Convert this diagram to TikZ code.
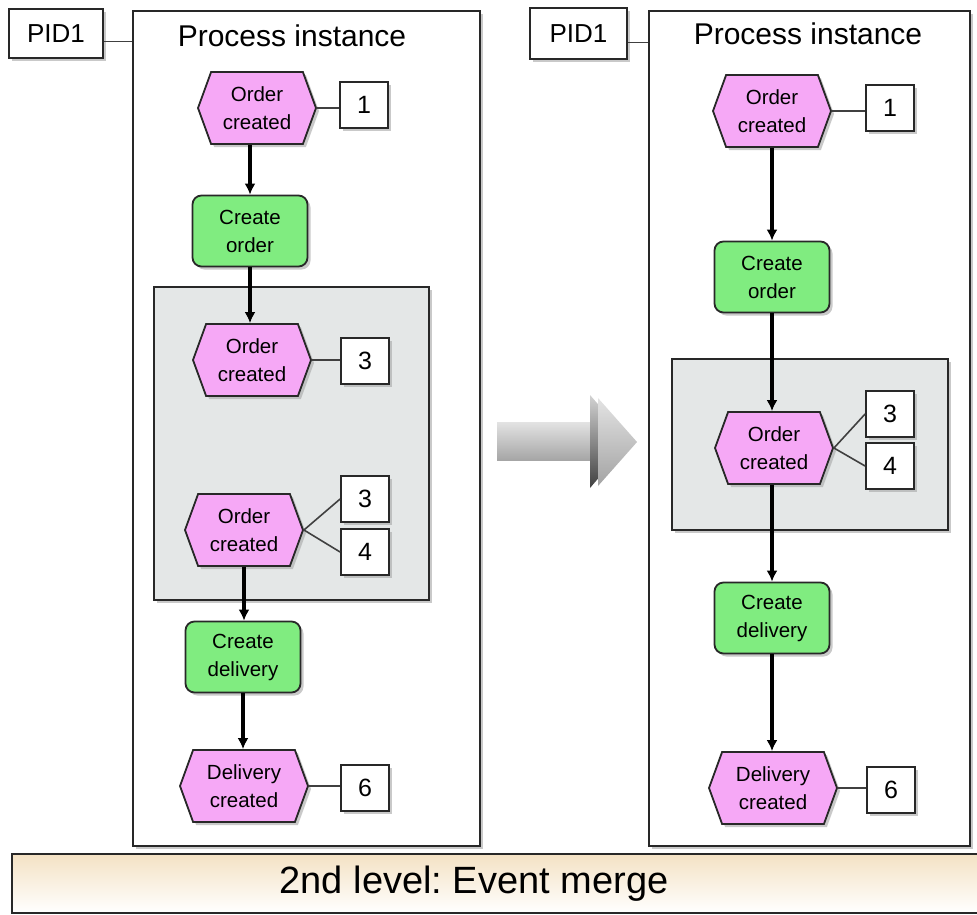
\documentclass[tikz,border=0pt]{standalone}
\usepackage{fontspec}
\setmainfont{Liberation Sans}
\usetikzlibrary{shapes.symbols,shadows,arrows.meta}
\definecolor{evtpink}{RGB}{246,168,246}
\definecolor{fungreen}{RGB}{128,236,128}
\definecolor{grpgray}{RGB}{228,231,231}
\definecolor{bartan}{RGB}{244,226,196}
\definecolor{framec}{RGB}{40,40,40}
\frenchspacing
\tikzset{
  shd/.style={drop shadow={shadow xshift=3pt,shadow yshift=-3pt,fill=gray!70,opacity=0.6}},
  evt/.style={signal, signal to=west and east, signal pointer angle=140, draw=framec, line width=1.8pt,
    fill=evtpink, minimum width=118pt, minimum height=72pt, inner sep=2pt, align=center,
    font=\fontsize{20.5}{28}\selectfont, shd},
  fun/.style={rectangle, rounded corners=9pt, draw=framec, line width=1.8pt, fill=fungreen,
    minimum width=115pt, minimum height=71pt, align=center, font=\fontsize{20.5}{28}\selectfont, shd},
  numbox/.style={rectangle, draw=framec, line width=1.8pt, fill=white, minimum width=48pt,
    minimum height=46pt, font=\fontsize{25}{28}\selectfont, shd},
  procbox/.style={rectangle, draw=framec, line width=2pt, fill=white, shd},
  grpbox/.style={rectangle, draw=framec, line width=2pt, fill=grpgray, shd},
  pidbox/.style={rectangle, draw=framec, line width=1.8pt, fill=white, minimum width=94pt,
    minimum height=49pt, font=\fontsize{26}{30}\selectfont, shd},
  titletext/.style={font=\fontsize{30}{34}\selectfont},
  arr/.style={line width=3.2pt, -{Latex[length=11pt,width=11pt]}},
  lnk/.style={line width=1.6pt, draw=black!75},
}
\begin{document}
\begin{tikzpicture}[x=1pt,y=-1pt]
\useasboundingbox (0,0) rectangle (977,914);
\fill[white] (0,0) rectangle (977,914);

% ---------- left process instance ----------
\node[procbox, minimum width=347pt, minimum height=835pt] (procL) at (306.5,428.5) {};
\node[pidbox] (pidL) at (56,33.5) {PID1};
\draw[lnk] ([yshift=-8pt]pidL.east) -- ([yshift=-8pt]pidL.east -| procL.west);
\node[titletext] (titL) at (292,36) {Process instance};

\node[grpbox, minimum width=275pt, minimum height=313pt] (grpL) at (291.5,443.5) {};

\node[evt] (e1L) at (257,108) {Order\\created};
\node[numbox] (n1L) at (364,105) {1};
\draw[lnk] (e1L.east) -- (e1L.east -| n1L.west);

\node[fun] (coL) at (250,231) {Create\\order};
\draw[arr] (coL.north |- e1L.south) -- (coL.north);

\node[evt] (e3L) at (252,360) {Order\\created};
\node[numbox] (n3L) at (365,361) {3};
\draw[lnk] (e3L.east) -- (e3L.east -| n3L.west);
\draw[arr] (coL.south) -- (coL.south |- e3L.north);

\node[evt] (e34L) at (244,530) {Order\\created};
\node[numbox] (n3bL) at (365,499) {3};
\node[numbox] (n4L) at (365,552) {4};
\draw[lnk] (e34L.east) -- (n3bL.west);
\draw[lnk] (e34L.east) -- (n4L.west);

\node[fun] (cdL) at (243,657) {Create\\delivery};
\draw[arr] (e34L.south) -- (e34L.south |- cdL.north);

\node[evt, minimum width=128pt] (dcL) at (244,786) {Delivery\\created};
\node[numbox] (n6L) at (365,788) {6};
\draw[lnk] (dcL.east) -- (dcL.east -| n6L.west);
\draw[arr] (cdL.south) -- (cdL.south |- dcL.north);

% ---------- big arrow ----------
\shade[top color=gray!22, bottom color=gray!70] (497,422) -- (592,422) -- (592,460) -- (497,460) -- cycle;
\shade[top color=gray!35, bottom color=black!75] (590,395) -- (630,441) -- (590,488) -- cycle;
\shade[top color=gray!22, bottom color=gray!72] (598,398) -- (637,442) -- (598,486) -- cycle;

% ---------- right process instance ----------
\node[procbox, minimum width=321pt, minimum height=835pt] (procR) at (809.5,428.5) {};
\node[pidbox, minimum width=97pt, minimum height=51pt] (pidR) at (578.5,33.5) {PID1};
\draw[lnk] ([yshift=-9pt]pidR.east) -- ([yshift=-9pt]pidR.east -| procR.west);
\node[titletext] (titR) at (808,34) {Process instance};

\node[grpbox, minimum width=276pt, minimum height=171pt] (grpR) at (810,444.5) {};

\node[evt] (e1R) at (772,111) {Order\\created};
\node[numbox] (n1R) at (890,108) {1};
\draw[lnk] (e1R.east) -- (e1R.east -| n1R.west);

\node[fun] (coR) at (772,277) {Create\\order};
\draw[arr] (e1R.south) -- (coR.north);

\node[evt] (e34R) at (774,448) {Order\\created};
\node[numbox] (n3R) at (890,414) {3};
\node[numbox] (n4R) at (890,466) {4};
\draw[lnk] (e34R.east) -- (n3R.west);
\draw[lnk] (e34R.east) -- (n4R.west);
\draw[arr] (coR.south) -- (coR.south |- e34R.north);

\node[fun] (cdR) at (772,618) {Create\\delivery};
\draw[arr] (cdR.north |- e34R.south) -- (cdR.north);

\node[evt, minimum width=128pt] (dcR) at (773,788) {Delivery\\created};
\node[numbox] (n6R) at (891,790) {6};
\draw[lnk] (dcR.east) -- (dcR.east -| n6R.west);
\draw[arr] (cdR.south) -- (cdR.south |- dcR.north);

% ---------- bottom bar ----------
\node[rectangle, draw=framec, line width=2pt, top color=bartan, bottom color=white,
  minimum width=980pt, minimum height=59pt, anchor=north west] (bar) at (11,853) {};
\node[font=\fontsize{38}{42}\selectfont] (barT) at (474,884) {2nd level: Event merge};
\end{tikzpicture}
\end{document}
